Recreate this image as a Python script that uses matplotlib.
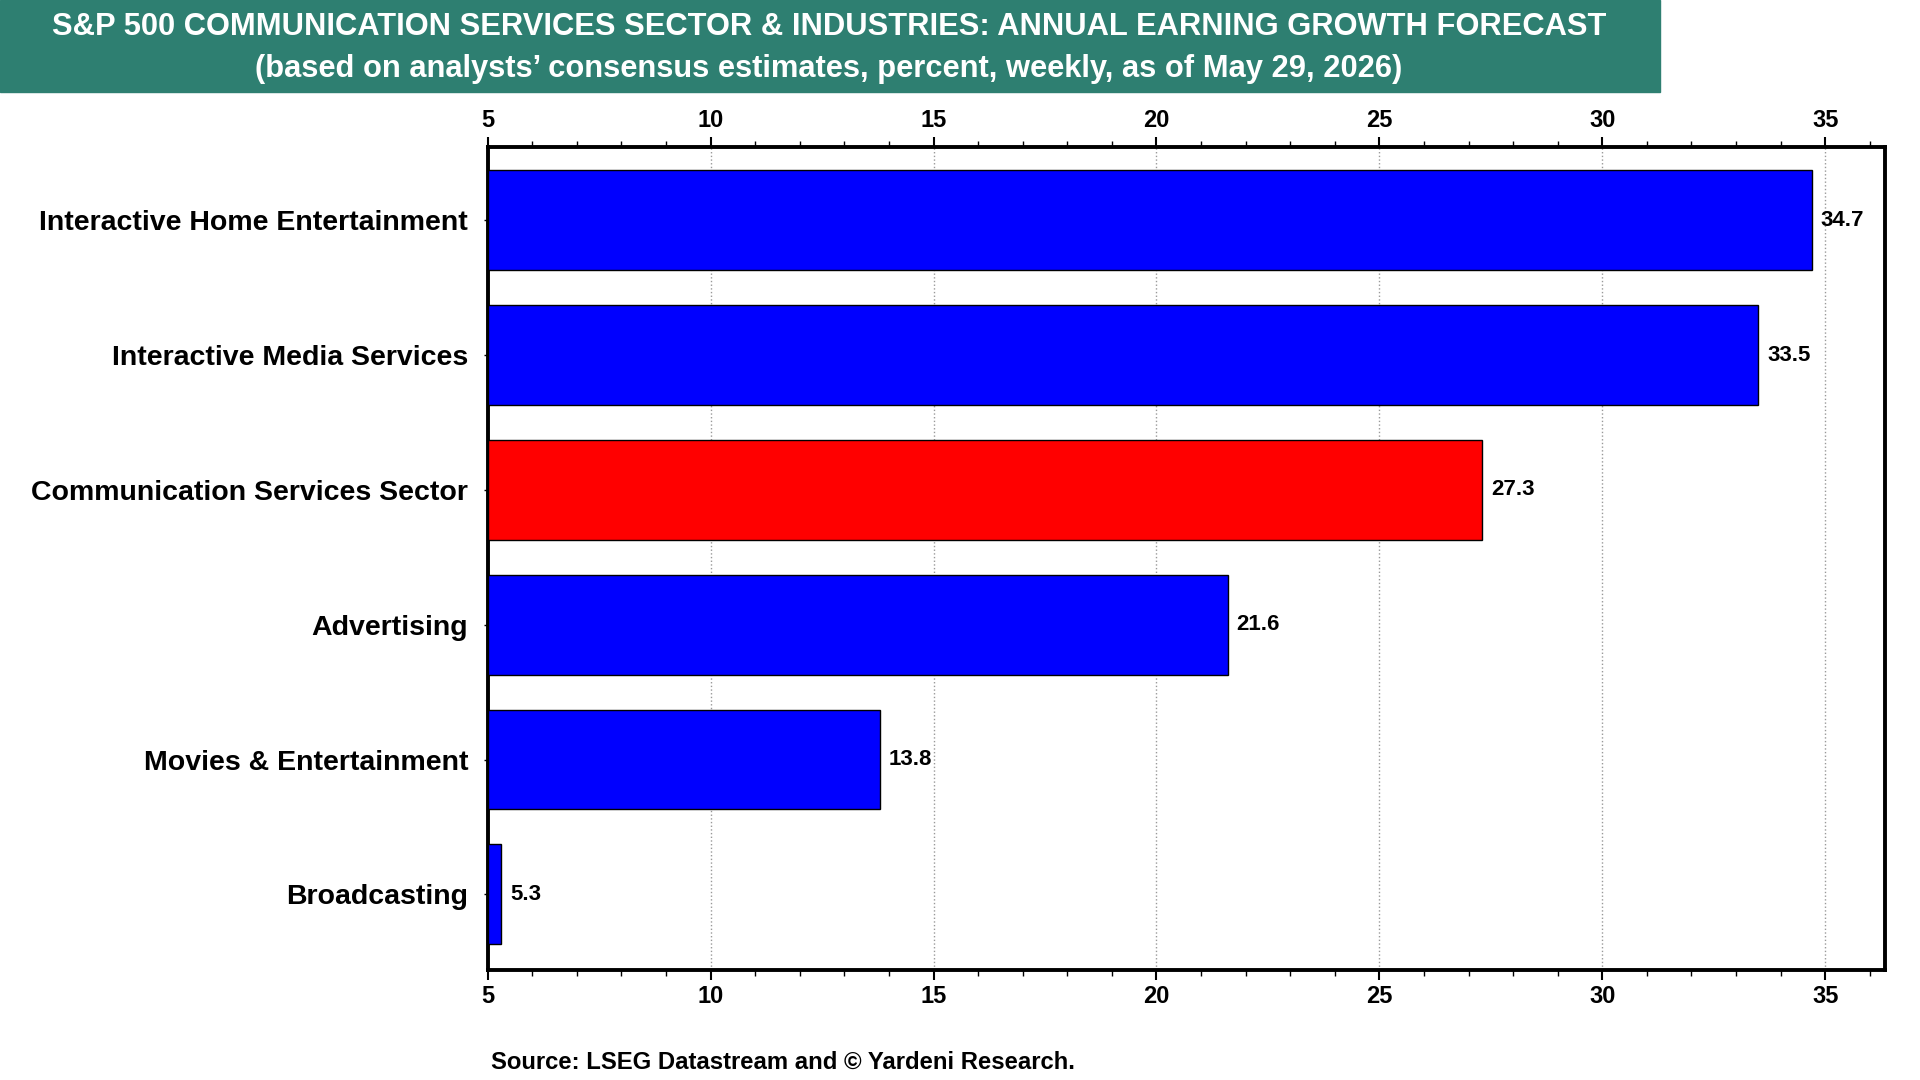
import matplotlib
matplotlib.use('Agg')

import matplotlib.pyplot as plt
from matplotlib.ticker import MultipleLocator

plt.rcParams['font.family'] = ['Liberation Sans', 'DejaVu Sans']
plt.rcParams['font.weight'] = 'bold'

# data
categories = ['Interactive Home Entertainment', 'Interactive Media Services',
              'Communication Services Sector', 'Advertising',
              'Movies & Entertainment', 'Broadcasting']
growth = [34.7, 33.5, 27.3, 21.6, 13.8, 5.3]
is_sector = [False, False, True, False, False, False]
x_ticks = [5, 10, 15, 20, 25, 30, 35]

fig = plt.figure(figsize=(19.2, 10.8), dpi=100)
ax = fig.add_axes([0.254, 0.102, 0.728, 0.762])

pos = list(range(len(categories)))
colors = ['#FF0000' if s else '#0000FF' for s in is_sector]
base = 5
ax.barh(pos, [g - base for g in growth], left=base, height=0.74,
        color=colors, edgecolor='black', linewidth=1.0, zorder=3)

for p, g in zip(pos, growth):
    ax.text(g + 0.2, p, f'{g:.1f}', va='center', ha='left',
            fontsize=16, fontweight='bold', zorder=4)

ax.set_xlim(5, 36.35)
ax.set_ylim(5.56, -0.545)
ax.set_xticks(x_ticks)
ax.xaxis.set_minor_locator(MultipleLocator(1))
ax.set_yticks(pos)
ax.set_yticklabels(categories, fontsize=20.5, fontweight='bold')

ax.tick_params(axis='x', which='both', top=True, labeltop=True,
               bottom=True, labelbottom=True, direction='out',
               labelsize=17, width=1.5)
ax.tick_params(axis='x', which='major', length=7, pad=4)
ax.tick_params(axis='x', which='minor', length=4, width=1)
ax.tick_params(axis='y', length=3, width=1, pad=11)

ax.grid(axis='x', which='major', color='#999999', linestyle=':',
        linewidth=1.0, zorder=0)

for s in ax.spines.values():
    s.set_linewidth(2.8)
    s.set_color('black')

# title banner
fig.patches.append(plt.Rectangle((0, 1 - 92 / 1080), 1660 / 1920, 92 / 1080,
                                 transform=fig.transFigure, color='#2E7F71',
                                 zorder=0))
fig.text(829 / 1920, 0.975,
         'S&P 500 COMMUNICATION SERVICES SECTOR & INDUSTRIES: ANNUAL EARNING GROWTH FORECAST',
         color='white', ha='center', va='center', fontsize=22.2,
         fontweight='bold')
fig.text(829 / 1920, 0.936,
         '(based on analysts\u2019 consensus estimates, percent, weekly, as of May 29, 2026)',
         color='white', ha='center', va='center', fontsize=22.2,
         fontweight='bold')

fig.text(491 / 1920, 0.016, 'Source: LSEG Datastream and \u00a9 Yardeni Research.',
         ha='left', va='center', fontsize=17.2, fontweight='bold')

plt.savefig('out.png', dpi=100)
